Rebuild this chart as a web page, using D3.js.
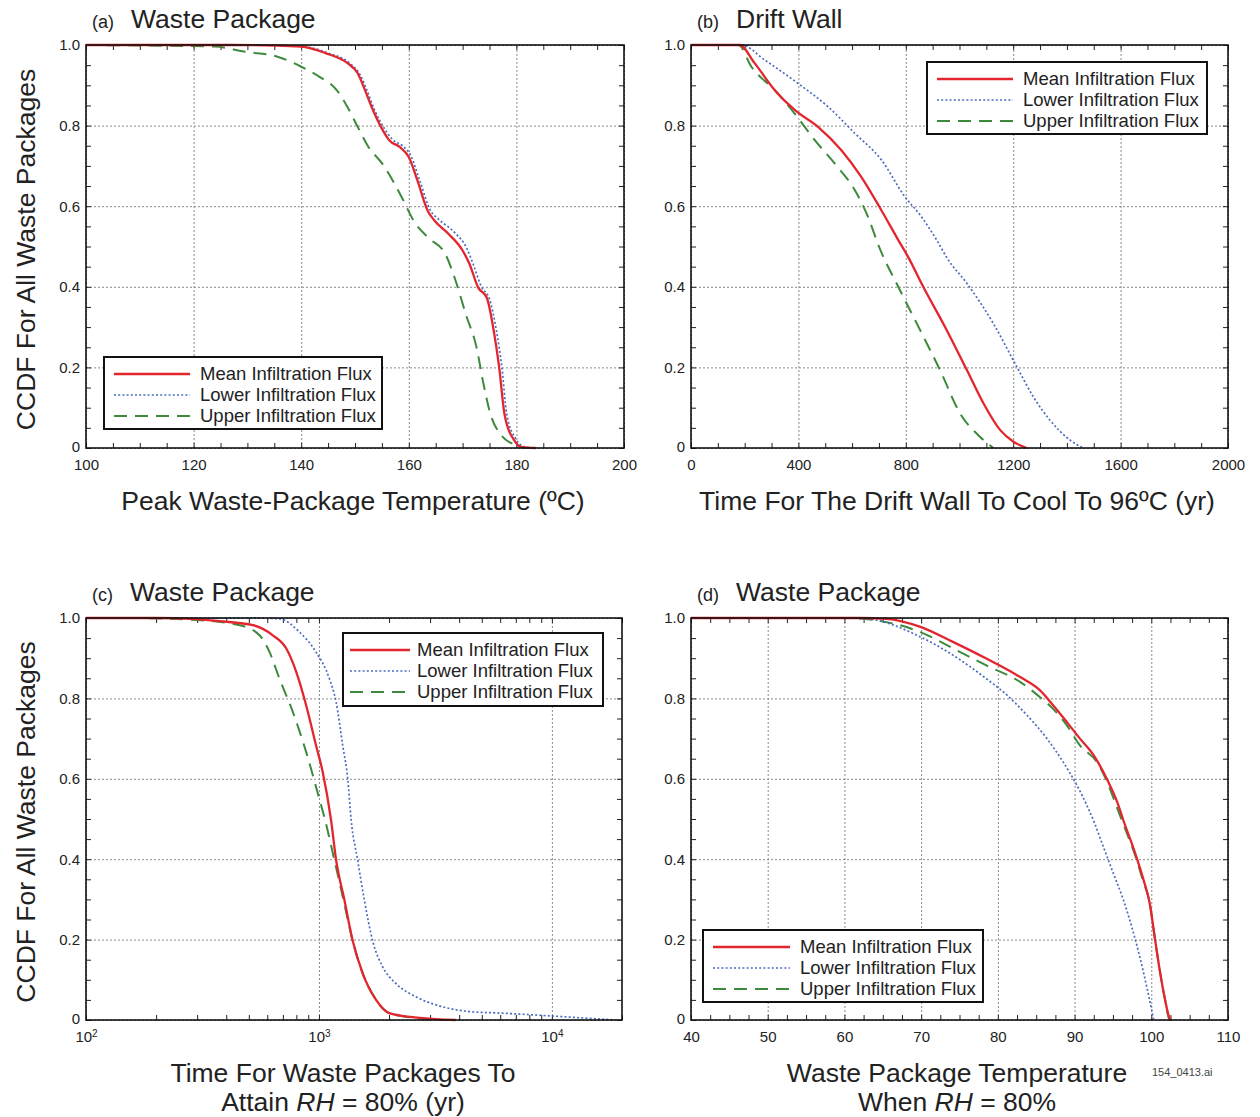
<!DOCTYPE html>
<html><head><meta charset="utf-8">
<script src="https://cdn.jsdelivr.net/npm/d3@7"></script>
<style>
body{margin:0;background:#fff}
svg{display:block}
text{font-family:Arial,"Liberation Sans",Helvetica,sans-serif}
</style>
</head><body>
<svg id="chart" width="1260" height="1117"></svg>
<script>
// ---------------- DATA ----------------
const seriesNames = ["Mean Infiltration Flux", "Lower Infiltration Flux", "Upper Infiltration Flux"];
const yTicks = [0, 0.2, 0.4, 0.6, 0.8, 1.0];
const yTickLabels = ["0", "0.2", "0.4", "0.6", "0.8", "1.0"];

// (a) Peak waste-package temperature (°C)
const aTicks = [100, 120, 140, 160, 180, 200];
const aMean = [[100,1],[127,1],[140,0.996],[144.5,0.98],[148.6,0.955],[150.5,0.93],[151.8,0.89],[153.1,0.846],[155.1,0.79],[156.4,0.763],[158.3,0.747],[160,0.722],[161.6,0.664],[163.5,0.589],[164.8,0.564],[167.4,0.531],[170,0.49],[171.3,0.456],[172.9,0.398],[174.5,0.373],[175.8,0.29],[176.8,0.2],[177.8,0.083],[179.7,0.017],[181,0.002],[183.6,0]];
const aLower = [[100,1],[128,1],[140,0.997],[145,0.98],[149,0.955],[151,0.925],[152.3,0.885],[153.6,0.84],[155.6,0.79],[157,0.765],[158.8,0.75],[160.4,0.725],[162,0.665],[164,0.59],[165.5,0.568],[168.5,0.535],[170.8,0.495],[172,0.455],[173.5,0.4],[175,0.37],[176.3,0.29],[177.3,0.2],[178.2,0.085],[180,0.02],[181.5,0.003],[183,0]];
const aUpper = [[100,1],[123.9,0.996],[129.7,0.983],[135.6,0.971],[140,0.946],[143.4,0.921],[146.6,0.888],[148.6,0.846],[150.5,0.797],[152.5,0.747],[155.1,0.705],[157,0.664],[159,0.614],[160.9,0.564],[163.5,0.523],[166.8,0.481],[168.7,0.415],[170.6,0.332],[172.6,0.249],[173.9,0.158],[175.2,0.083],[177.1,0.033],[179.7,0.008],[181.7,0]];

// (b) Time for the drift wall to cool to 96°C (yr)
const bTicks = [0, 400, 800, 1200, 1600, 2000];
const bMean = [[0,1],[181,1],[237,0.955],[312,0.888],[386,0.839],[473,0.797],[560,0.739],[634,0.673],[709,0.59],[772,0.516],[808,0.475],[865,0.4],[952,0.293],[1027,0.194],[1089,0.111],[1151,0.045],[1200,0.016],[1250,0]];
const bLower = [[0,1],[188,1],[274,0.963],[398,0.905],[510,0.847],[610,0.781],[709,0.715],[796,0.624],[858,0.574],[915,0.516],[955,0.47],[1027,0.409],[1126,0.309],[1213,0.202],[1275,0.127],[1337,0.069],[1411,0.02],[1461,0]];
const bUpper = [[0,1],[177,1],[225,0.946],[312,0.888],[386,0.83],[461,0.764],[535,0.706],[610,0.64],[659,0.574],[700,0.5],[778,0.392],[853,0.293],[927,0.194],[1002,0.086],[1076,0.028],[1126,0]];

// (c) Time for waste packages to attain RH = 80% (yr), log scale
const cTicks = [100, 1000, 10000];
const cMean = [[100,1],[200,1],[300,0.997],[375,0.992],[521,0.982],[634,0.957],[724,0.924],[799,0.866],[881,0.783],[972,0.683],[1038,0.617],[1127,0.4975],[1185,0.398],[1286,0.299],[1396,0.197],[1541,0.116],[1759,0.05],[2005,0.017],[2522,0.007],[3176,0.002],[3866,0]];
const cLower = [[100,1],[500,1],[677,0.998],[825,0.965],[972,0.915],[1109,0.849],[1185,0.791],[1265,0.683],[1329,0.6],[1375,0.4975],[1466,0.398],[1566,0.299],[1700,0.197],[1874,0.133],[2138,0.091],[2606,0.058],[3389,0.033],[4412,0.021],[6125,0.017],[10000,0.01],[16400,0.002],[18700,0]];
const cUpper = [[100,1],[150,1],[300,0.995],[457,0.982],[556,0.957],[614,0.915],[677,0.849],[773,0.766],[881,0.667],[1004,0.55],[1060,0.5],[1165,0.398],[1274,0.299],[1396,0.197],[1541,0.116],[1759,0.05],[2005,0.017],[2606,0.005],[3389,0]];

// (d) Waste package temperature when RH = 80% (°C)
const dTicks = [40, 50, 60, 70, 80, 90, 100, 110];
const dMean = [[40,1],[62,1],[65.5,0.998],[69.9,0.978],[74.2,0.94],[78.5,0.899],[82.9,0.853],[85.5,0.82],[87.2,0.783],[89,0.741],[90.7,0.7],[92.5,0.658],[94.2,0.6],[95.6,0.54],[96.3,0.5],[97.9,0.415],[99.0,0.348],[99.8,0.29],[100.5,0.199],[101.1,0.124],[101.8,0.05],[102.4,0.004],[102.6,0]];
const dLower = [[40,1],[60,1],[63.3,0.997],[69.9,0.953],[74.2,0.907],[78.5,0.849],[81.2,0.808],[83.8,0.758],[86.4,0.7],[88.5,0.642],[90.3,0.584],[91.6,0.534],[92.6,0.49],[93.75,0.431],[95.05,0.365],[96.36,0.299],[97.45,0.232],[98.5,0.157],[99.4,0.083],[100.05,0.025],[100.3,0]];
const dUpper = [[40,1],[60,1],[63,0.997],[69.9,0.965],[74.2,0.924],[78.5,0.882],[82.9,0.841],[85.5,0.803],[87.2,0.774],[89,0.733],[90.7,0.683],[92.9,0.642],[94.3,0.59],[95.5,0.53],[96.3,0.49],[97.8,0.415],[98.9,0.348],[99.8,0.29],[100.5,0.199],[101.1,0.124],[101.8,0.05],[102.3,0.004],[102.5,0]];

// ---------------- STYLE / LAYOUT ----------------
const seriesStyle = [
  {color:"#e3262e", width:2.3, dash:null},
  {color:"#4a6cc0", width:1.7, dash:"2,2.2"},
  {color:"#3d8a3d", width:2, dash:"13,8"}
];

const panels = [
  {letter:"(a)", title:"Waste Package", L:86, R:624, T:45, B:448, log:false, domain:[100,200], ticks:aTicks,
   minor:d3.range(100,201,5), data:[aMean,aLower,aUpper], yLabel:true,
   xLabel:["Peak Waste-Package Temperature (\u00BAC)"], xLabelX:353,
   legend:{x:104,y:357,w:278,h:72,l0:114,l1:190,tx:200}},
  {letter:"(b)", title:"Drift Wall", L:691, R:1228, T:45, B:448, log:false, domain:[0,2000], ticks:bTicks,
   minor:d3.range(0,2001,100), data:[bMean,bLower,bUpper], yLabel:false,
   xLabel:["Time For The Drift Wall To Cool To 96\u00BAC (yr)"], xLabelX:957,
   legend:{x:927,y:62,w:280,h:72,l0:937,l1:1013,tx:1023}},
  {letter:"(c)", title:"Waste Package", L:86, R:622, T:618, B:1020, log:true, domain:[100,20000], ticks:cTicks,
   minor:[100,200,300,400,500,600,700,800,900,1000,2000,3000,4000,5000,6000,7000,8000,9000,10000,20000],
   data:[cMean,cLower,cUpper], yLabel:true,
   xLabel:["Time For Waste Packages To", "Attain |RH| = 80% (yr)"], xLabelX:343,
   legend:{x:343,y:633,w:260,h:73,l0:350,l1:410,tx:417}},
  {letter:"(d)", title:"Waste Package", L:691, R:1228, T:618, B:1020, log:false, domain:[40,110], ticks:dTicks,
   minor:d3.range(40,110.1,2.5), data:[dMean,dLower,dUpper], yLabel:false,
   xLabel:["Waste Package Temperature", "When |RH| = 80%"], xLabelX:957,
   legend:{x:703,y:930,w:280,h:72,l0:713,l1:790,tx:800}}
];

const svg = d3.select("#chart");

panels.forEach((p, pi) => {
  const x = (p.log ? d3.scaleLog() : d3.scaleLinear()).domain(p.domain).range([p.L, p.R]);
  const y = d3.scaleLinear().domain([0,1]).range([p.B, p.T]);
  const W = p.R - p.L, H = p.B - p.T;
  const g = svg.append("g");

  // grid
  const gx = g.append("g").attr("transform", `translate(0,${p.B})`)
    .call(d3.axisBottom(x).tickValues(p.ticks).tickSize(-H).tickFormat(""));
  const gy = g.append("g").attr("transform", `translate(${p.L},0)`)
    .call(d3.axisLeft(y).tickValues(yTicks).tickSize(-W).tickFormat(""));
  [gx, gy].forEach(s => {
    s.select(".domain").remove();
    s.selectAll("line").attr("stroke", "#8a8a8a").attr("stroke-width", 1).attr("stroke-dasharray", "2,2");
  });

  // minor ticks, inward on all four sides
  const mk = 5;
  const tb = g.append("g").attr("transform", `translate(0,${p.B})`).call(d3.axisBottom(x).tickValues(p.minor).tickSize(-mk).tickFormat(""));
  const tt = g.append("g").attr("transform", `translate(0,${p.T})`).call(d3.axisTop(x).tickValues(p.minor).tickSize(-mk).tickFormat(""));
  const yMinor = d3.range(0, 1.0001, 0.05);
  const tl = g.append("g").attr("transform", `translate(${p.L},0)`).call(d3.axisLeft(y).tickValues(yMinor).tickSize(-mk).tickFormat(""));
  const tr = g.append("g").attr("transform", `translate(${p.R},0)`).call(d3.axisRight(y).tickValues(yMinor).tickSize(-mk).tickFormat(""));
  [tb, tt, tl, tr].forEach(s => {
    s.select(".domain").remove();
    s.selectAll("line").attr("stroke", "#222").attr("stroke-width", 1);
  });

  // tick labels
  const xl = g.append("g").attr("transform", `translate(0,${p.B})`)
    .call(d3.axisBottom(x).tickValues(p.ticks).tickSize(0).tickPadding(11)
      .tickFormat(p.log ? (() => "10") : d3.format("d")));
  xl.select(".domain").remove();
  xl.selectAll("text").attr("font-size", 15).attr("fill", "#222").attr("font-family", "Arial, 'Liberation Sans', sans-serif");
  if (p.log) {
    xl.selectAll("text").each(function(d) {
      d3.select(this).append("tspan").attr("dy", "-0.45em").attr("font-size", 10)
        .text(Math.round(Math.log10(d)));
    });
  }
  const yl = g.append("g").attr("transform", `translate(${p.L},0)`)
    .call(d3.axisLeft(y).tickValues(yTicks).tickSize(0).tickPadding(6)
      .tickFormat((d, i) => yTickLabels[i]));
  yl.select(".domain").remove();
  yl.selectAll("text").attr("font-size", 15).attr("fill", "#222").attr("font-family", "Arial, 'Liberation Sans', sans-serif");
  yl.selectAll("text").filter(d => d === 0).attr("dy", "0.2em");

  // curves
  const clipId = "clip" + pi;
  g.append("clipPath").attr("id", clipId).append("rect")
    .attr("x", p.L).attr("y", p.T - 2).attr("width", W).attr("height", H + 4);
  const line = d3.line().x(d => x(d[0])).y(d => y(d[1])).curve(d3.curveMonotoneX);
  const order = [2, 1, 0];
  order.forEach(si => {
    const st = seriesStyle[si];
    g.append("path").datum(p.data[si])
      .attr("clip-path", `url(#${clipId})`)
      .attr("d", line).attr("fill", "none")
      .attr("stroke", st.color).attr("stroke-width", st.width)
      .attr("stroke-dasharray", st.dash);
  });

  // frame
  g.append("rect").attr("x", p.L).attr("y", p.T).attr("width", W).attr("height", H)
    .attr("fill", "none").attr("stroke", "#111").attr("stroke-width", 1.6);

  // legend
  const lg = p.legend;
  const leg = g.append("g");
  leg.append("rect").attr("x", lg.x).attr("y", lg.y).attr("width", lg.w).attr("height", lg.h)
    .attr("fill", "#fff").attr("stroke", "#111").attr("stroke-width", 2);
  seriesNames.forEach((name, i) => {
    const ry = lg.y + 17 + i * 21;
    const st = seriesStyle[i];
    leg.append("line").attr("x1", lg.l0).attr("x2", lg.l1).attr("y1", ry).attr("y2", ry)
      .attr("stroke", st.color).attr("stroke-width", st.width).attr("stroke-dasharray", st.dash);
    leg.append("text").attr("x", lg.tx).attr("y", ry).attr("dy", "0.35em")
      .attr("font-size", 18.5).attr("fill", "#222").text(name);
  });

  // title
  const tY = p.T - 17;
  const tg = g.append("text").attr("x", p.L + 6).attr("y", tY).attr("fill", "#222");
  tg.append("tspan").attr("font-size", 18).text(p.letter);
  tg.append("tspan").attr("font-size", 26.5).attr("dx", 17).text(p.title);

  // x label
  p.xLabel.forEach((txt, li) => {
    const t = g.append("text").attr("x", p.xLabelX).attr("y", p.B + 62 + li * 29)
      .attr("text-anchor", "middle").attr("font-size", 26.5).attr("fill", "#222");
    txt.split("|").forEach((part, k) => {
      t.append("tspan").attr("font-style", k === 1 ? "italic" : "normal").text(part);
    });
  });

  // y label
  if (p.yLabel) {
    g.append("text").attr("transform", `translate(35,${(p.T + p.B) / 2 + 3}) rotate(-90)`)
      .attr("text-anchor", "middle").attr("font-size", 26.5).attr("fill", "#222")
      .text("CCDF For All Waste Packages");
  }
});

svg.append("text").attr("x", 1152).attr("y", 1076).attr("font-size", 11).attr("fill", "#444").text("154_0413.ai");
</script>
</body></html>
